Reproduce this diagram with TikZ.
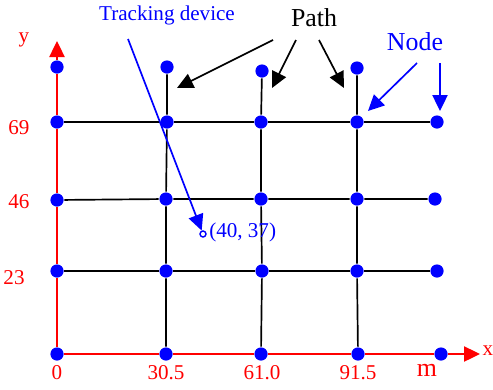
\documentclass[tikz,border=0pt]{standalone}
\usepackage{fontspec}
\setmainfont{Liberation Serif}
\usetikzlibrary{arrows.meta}
\tikzset{
  dot/.style={circle, fill=blue, inner sep=0pt, minimum size=0.33cm},
  lbl/.style={font=\fontsize{15}{18}\selectfont},
  big/.style={font=\fontsize{18.4}{22}\selectfont},
}
\begin{document}
\begin{tikzpicture}[x=0.025cm, y=-0.025cm, line width=1.2pt,
  >={Triangle[length=0.4cm, width=0.38cm]}]
\useasboundingbox (0,0) rectangle (493,389);
% nodes of the grid
\node[dot] (t0) at (57,67) {};
\node[dot] (t1) at (167,67) {};
\node[dot] (t2) at (262,71) {};
\node[dot] (t3) at (357,68) {};
\node[dot] (a0) at (57,122) {};
\node[dot] (a1) at (167,122) {};
\node[dot] (a2) at (261,122) {};
\node[dot] (a3) at (357,122) {};
\node[dot] (a4) at (437,122) {};
\node[dot] (b0) at (57,200) {};
\node[dot] (b1) at (166,199) {};
\node[dot] (b2) at (261,199) {};
\node[dot] (b3) at (357,199) {};
\node[dot] (b4) at (435,199) {};
\node[dot] (c0) at (57,271) {};
\node[dot] (c1) at (166,271) {};
\node[dot] (c2) at (262,271) {};
\node[dot] (c3) at (357,271) {};
\node[dot] (c4) at (437,271) {};
\node[dot] (d0) at (57,354) {};
\node[dot] (d1) at (166,354) {};
\node[dot] (d2) at (261,354) {};
\node[dot] (d3) at (358,354) {};
\node[dot] (d4) at (441,354) {};
% paths
\draw (a0) -- (a1) -- (a2) -- (a3) -- (a4);
\draw (b0) -- (b1) -- (b2) -- (b3) -- (b4);
\draw (c0) -- (c1) -- (c2) -- (c3) -- (c4);
\draw (t1) -- (a1) -- (b1) -- (c1) -- (d1);
\draw (t2) -- (a2) -- (b2) -- (c2) -- (d2);
\draw (t3) -- (a3) -- (b3) -- (c3) -- (d3);
% axes
\coordinate (xtip) at (480,354);
\coordinate (ytip) at (57,41);
\draw[red] (d0) -- (d1) -- (d2) -- (d3) -- (d4);
\draw[red, ->] (d4) -- (xtip);
\draw[red] (d0) -- (c0) -- (b0) -- (a0) -- (t0);
\draw[red, ->] (t0) -- (ytip);
\node[lbl, red] (xl) at (488,351) {x};
\node[lbl, red] (yl) at (24,40) {y};
\node[big, red] (ml) at (427,370) {m};
\node[lbl, red] (x0) at (57,373) {0};
\node[lbl, red] (x1) at (166,373) {30.5};
\node[lbl, red] (x2) at (262,373) {61.0};
\node[lbl, red] (x3) at (358,373) {91.5};
\node[lbl, red] (y1) at (19,128) {69};
\node[lbl, red] (y2) at (19,202) {46};
\node[lbl, red] (y3) at (14,278) {23};
% tracking device
\node[lbl, blue] (trk) at (167,15) {Tracking device};
\coordinate (trk0) at (128,39);
\node[circle, draw=blue, line width=1pt, inner sep=0pt, minimum size=0.15cm] (dev) at (203,234) {};
\node[lbl, blue, anchor=west, inner sep=1pt] (devl) at (207,232) {(40, 37)};
\draw[blue, ->] (trk0) -- (dev);
% labels with arrows
\node[big] (path) at (314,18) {Path};
\coordinate (p1) at (273,40);
\coordinate (p2) at (296,40);
\coordinate (p3) at (319,40);
\coordinate (e1) at (177,88);
\coordinate (e2) at (272,88);
\coordinate (e3) at (344,88);
\draw[->] (p1) -- (e1);
\draw[->] (p2) -- (e2);
\draw[->] (p3) -- (e3);
\node[big, blue] (nd) at (415,42) {Node};
\coordinate (q1) at (417,63);
\coordinate (q2) at (440,63);
\draw[blue, ->] (q1) -- (368,111);
\draw[blue, ->] (q2) -- (440,111);
\end{tikzpicture}
\end{document}
